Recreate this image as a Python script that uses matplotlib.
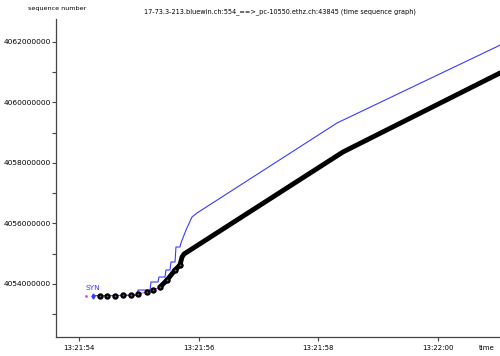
import numpy as np
import matplotlib
matplotlib.use("Agg")
import matplotlib.pyplot as plt
import matplotlib.dates as mdates
from matplotlib.ticker import MultipleLocator, FuncFormatter

# time offsets in seconds after 13:21:54, sequence numbers in millions
base_time = np.datetime64("2000-01-01T13:21:54")

# blue line (window / ack line)
blue_t = [0.234, 0.971, 0.987, 1.188, 1.205, 1.322, 1.339, 1.439, 1.456,
          1.523, 1.540, 1.607, 1.623, 1.690, 1.707, 1.791, 1.891, 1.975,
          4.318, 7.20]
blue_seq = [4053.613, 4053.626, 4053.80, 4053.80, 4054.066, 4054.066,
            4054.231, 4054.231, 4054.463, 4054.463, 4054.727, 4054.727,
            4055.223, 4055.223, 4055.355, 4055.785, 4056.215, 4056.347,
            4059.322, 4062.04]

# discrete data segments at the start
seg_t = [0.351, 0.469, 0.603, 0.736, 0.870, 0.987, 1.138, 1.238, 1.356,
         1.473, 1.607, 1.690]
seg_seq = [4053.613, 4053.613, 4053.613, 4053.626, 4053.636, 4053.669,
           4053.736, 4053.80, 4053.90, 4054.13, 4054.46, 4054.63]

# dense data segments (thick band)
band_t = [1.356, 1.473, 1.607, 1.690, 1.724, 1.757, 4.418, 7.20]
band_seq = [4053.90, 4054.13, 4054.46, 4054.63, 4054.89, 4054.99, 4058.364,
            4061.128]

syn_t, syn_seq = 0.117, 4053.60


def to_time(offsets):
    return base_time + (np.array(offsets) * 1e6).astype("timedelta64[us]")


fig = plt.figure(figsize=(5, 3.56), dpi=100)
ax = fig.add_axes([0.112, 0.0534, 0.888, 0.8932])

ax.plot(to_time(blue_t), np.array(blue_seq) * 1e6, color="#3a3aff", lw=0.8)
ax.plot(to_time(seg_t), np.array(seg_seq) * 1e6, color="#d020d0", lw=0.6)
ax.plot(to_time(band_t), np.array(band_seq) * 1e6, color="black", lw=3.5,
        solid_capstyle="butt")
ax.plot(to_time(seg_t), np.array(seg_seq) * 1e6, "o", color="black", ms=3.6)
ax.plot(to_time(seg_t), np.array(seg_seq) * 1e6, "+", color="#666666",
        ms=1.8, mew=0.4)
ax.plot(to_time([syn_t]), [syn_seq * 1e6], ".", color="#ff30ff", ms=2)
ax.plot(to_time([0.234]), [4053.613e6], "d", color="#3a3aff", ms=2.5)
ax.text(to_time([syn_t])[0], 4053.78e6, "SYN", color="#3a3aff", fontsize=5.3,
        ha="left", va="bottom")

ax.set_xlim(to_time([-0.385])[0], to_time([7.046])[0])
ax.set_ylim(4052.248e6, 4062.76e6)

ax.xaxis.set_major_locator(mdates.SecondLocator(bysecond=range(0, 60, 2)))
ax.xaxis.set_major_formatter(mdates.DateFormatter("%H:%M:%S"))
ax.yaxis.set_major_locator(MultipleLocator(2e6))
ax.yaxis.set_minor_locator(MultipleLocator(1e6))
ax.yaxis.set_major_formatter(FuncFormatter(lambda v, p: "%d" % round(v)))

for s in ["top", "right"]:
    ax.spines[s].set_visible(False)
for s in ["left", "bottom"]:
    ax.spines[s].set_color("#444444")
    ax.spines[s].set_linewidth(0.9)

ax.tick_params(axis="both", which="both", direction="out", length=3,
               width=0.8, color="#444444")
ax.tick_params(axis="y", which="major", labelsize=5.4, pad=0.8)
ax.tick_params(axis="x", which="major", labelsize=5.0, pad=3)

fig.text(0.056, 0.975, "sequence number", fontsize=4.6, ha="left", va="center")
fig.text(0.56, 0.966, "17-73.3-213.bluewin.ch:554_==>_pc-10550.ethz.ch:43845 (time sequence graph)",
         fontsize=4.7, ha="center", va="center")
fig.text(0.957, 0.022, "time", fontsize=5.0, ha="left", va="center")

fig.savefig("out.png", dpi=100)
